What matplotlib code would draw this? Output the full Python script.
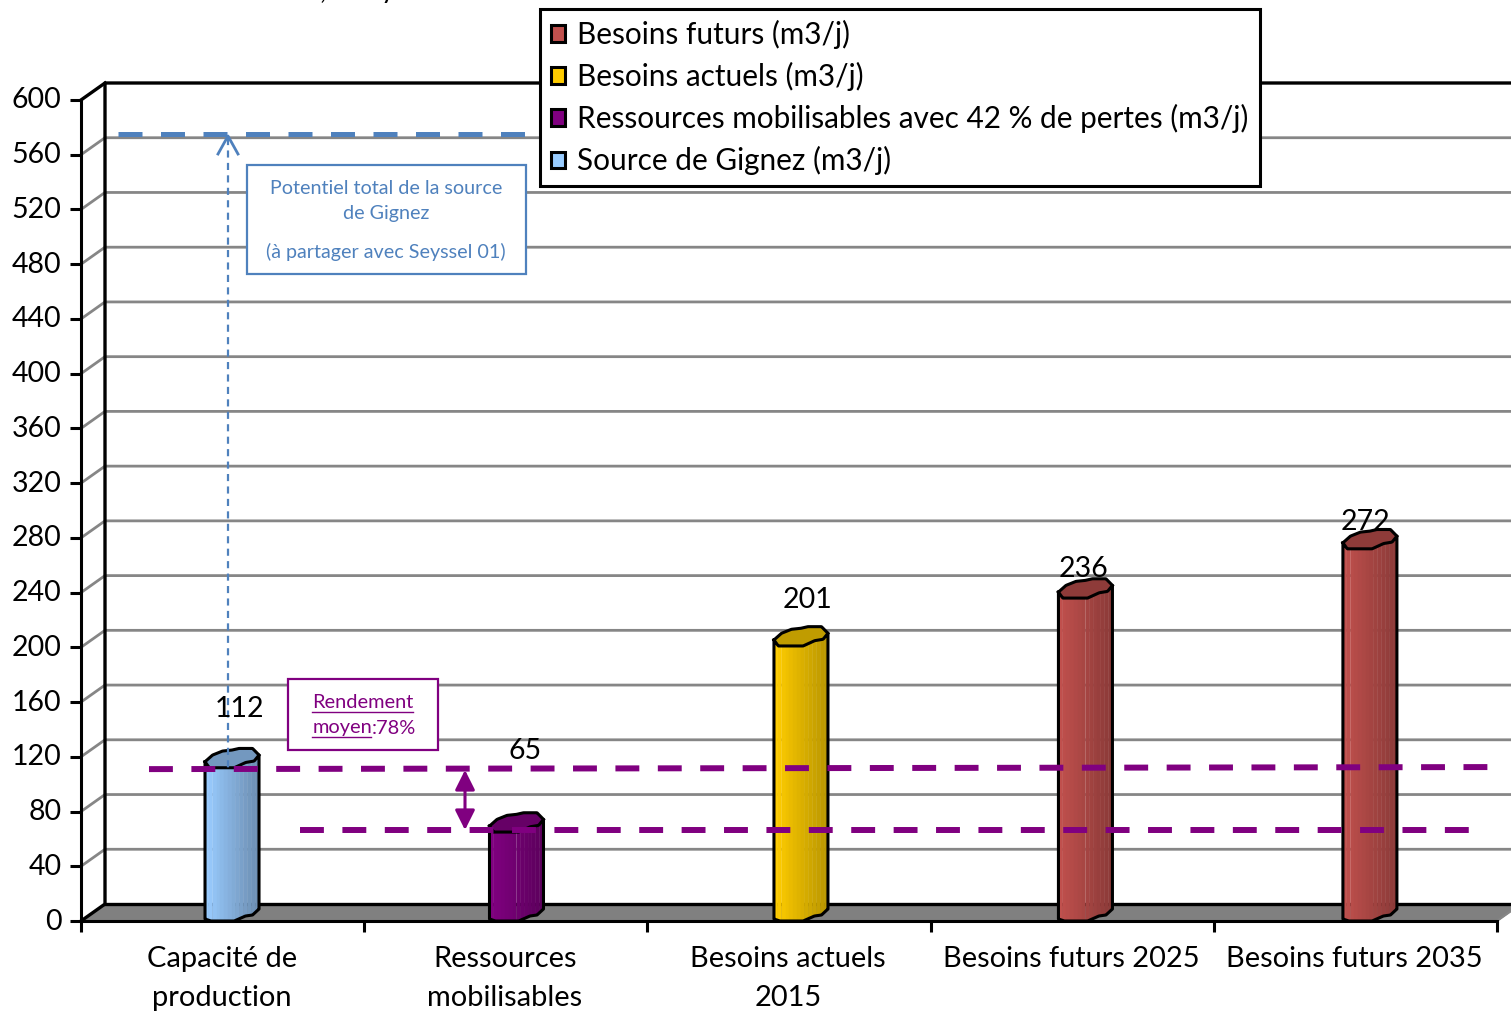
import numpy as np
import matplotlib
matplotlib.use("Agg")
import matplotlib.pyplot as plt
from matplotlib.patches import Patch, Rectangle
from matplotlib.transforms import ScaledTranslation

plt.rcParams['font.family'] = ['Lato', 'DejaVu Sans']

# data
categories = ["Capacité de\nproduction", "Ressources\nmobilisables", "Besoins actuels\n2015",
              "Besoins futurs 2025", "Besoins futurs 2035"]
values = [112, 65, 201, 236, 272]
y_ticks = list(range(0, 601, 40))
legend_labels = ["Besoins futurs (m3/j)", "Besoins actuels (m3/j)",
                 "Ressources mobilisables avec 42 % de pertes (m3/j)", "Source de Gignez (m3/j)"]
source_potential = 575
yield_line_start = [111, 112.5]
resource_line = [66.5, 66.5]

# colours: light side, dark side, cap
bar_colors = [("#99CCFF", "#6E90B5", "#7398BF"),
              ("#800080", "#5E005E", "#660066"),
              ("#FFCC00", "#BC9800", "#C09C00"),
              ("#C0504D", "#8E3B39", "#8E3B39"),
              ("#C0504D", "#8E3B39", "#8E3B39")]
legend_colors = ["#C0504D", "#FFCC00", "#800080", "#99CCFF"]
purple = "#800080"
blue = "#4F81BD"
grid_gray = "#868686"

W, H = 1511, 1011
fig = plt.figure(figsize=(W / 100, H / 100), dpi=100)
ax = fig.add_axes([81 / W, (H - 921) / H, 1416 / W, 821 / H])
ax.set_xlim(0, 5)
ax.set_ylim(0, 600)
ax.patch.set_visible(False)

PX_X = 1416 / 5   # pixels per category
PX_Y = 821 / 600  # pixels per unit
DX = 24 / PX_X
DY = 17 / PX_Y
GRID_DY = 17 / PX_Y


def xpos(px):
    return (px - 81) / PX_X


# floor and walls
ax.fill([0, 5, 5 + DX, DX], [0, 0, DY, DY], color="#808080", clip_on=False, zorder=1)
ax.plot([DX, 5 + DX], [DY, DY], color="k", lw=2.4, clip_on=False, zorder=1.5)
ax.plot([5, 5 + DX], [0, DY], color=grid_gray, lw=1.5, clip_on=False, zorder=1.5)
ax.plot([0, DX, DX, 5 + DX], [0, DY, 600 + DY, 600 + DY], color="k", lw=2.4, clip_on=False, zorder=1.5)
ax.plot([0, DX], [600, 600 + DY], color="k", lw=2.4, clip_on=False, zorder=1.5)
for t in y_ticks[1:-1]:
    ax.plot([0, DX, 5 + DX], [t, t + GRID_DY, t + GRID_DY], color=grid_gray, lw=2,
            clip_on=False, zorder=1.2)

# cylinder outline, u across the bar, lift in pixels
base_u = [0, .11, .54, .75, .88, 1]
base_lift = [2, 0, 0, 5, 6, 12]
top_u = [0, .08, .54, .755, .91, 1]
top_lift = [6, 0, 0, 5.3, 6.7, 12.7]
cap_u = [0, .14, .325, .5, .63, .88, 1]
cap_lift = [6, 12.7, 16.7, 17.7, 19.3, 19.3, 12.7]
BAR_W = 54 / PX_X
edges = np.linspace(0, 1, 15)

for i, (v, c) in enumerate(zip(values, bar_colors)):
    left = 0.4379 + i * 1.0045
    c0 = np.array(matplotlib.colors.to_rgb(c[0]))
    c1 = np.array(matplotlib.colors.to_rgb(c[1]))
    for a, b in zip(edges[:-1], edges[1:]):
        us = np.array([a, b])
        xs = left + us * BAR_W
        y_bot = np.interp(us, base_u, base_lift) / PX_Y
        y_top = v + np.interp(us, top_u, top_lift) / PX_Y
        col = c0 + (c1 - c0) * min((a / 0.9), 1)
        ax.fill([xs[0], xs[1], xs[1], xs[0]], [y_bot[0], y_bot[1], y_top[1], y_top[0]],
                color=col, lw=0.3, zorder=3)
    uu = np.linspace(0, 1, 60)
    x_line = left + uu * BAR_W
    y_b = np.interp(uu, base_u, base_lift) / PX_Y
    y_t = v + np.interp(uu, top_u, top_lift) / PX_Y
    y_c = v + np.interp(uu, cap_u, cap_lift) / PX_Y
    ax.fill(np.r_[x_line, x_line[::-1]], np.r_[y_t, y_c[::-1]], color=c[2], zorder=3.1, lw=0)
    ax.plot(np.r_[x_line[0], x_line, x_line[-1], x_line[::-1], x_line[0]],
            np.r_[y_t[0], y_b, y_t[-1], y_t[::-1], y_t[0]], color="k", lw=2.2, zorder=3.2)
    ax.plot(x_line, y_c, color="k", lw=2.2, zorder=3.2)
    ax.plot([x_line[-1], x_line[-1]], [y_t[-1], y_c[-1]], color="k", lw=2.2, zorder=3.2)

# dashed reference lines
dash = (0, (4, 3.1))
ax.plot([xpos(149), xpos(1493)], yield_line_start, color=purple, lw=4.3, ls=dash,
        dash_capstyle="butt", clip_on=False, zorder=4)
ax.plot([xpos(300), xpos(1473)], resource_line, color=purple, lw=4.3, ls=dash,
        dash_capstyle="butt", clip_on=False, zorder=4)
ax.plot([xpos(118), xpos(526)], [source_potential, source_potential], color=blue, lw=3.6,
        ls=(0, (4.8, 3.7)), dash_capstyle="butt", clip_on=False, zorder=4)

# axes
ax.spines["top"].set_visible(False)
ax.spines["right"].set_visible(False)
for s in ("left", "bottom"):
    ax.spines[s].set_linewidth(2.2)
ax.set_yticks(y_ticks)
ax.set_xticks(range(6))
ax.set_xticklabels([])
ax.set_xticks(np.arange(5) + 0.497, categories, minor=True, fontsize=20.9, linespacing=1.62)
ax.tick_params(axis="x", which="major", length=8, width=2.2, direction="out")
ax.tick_params(axis="x", which="minor", length=0, pad=18)
ax.tick_params(axis="y", length=8, width=2.2, pad=6, labelsize=20.5)
for lab in ax.get_xticklabels(minor=True):
    lab.set_verticalalignment("top")
for lab in ax.get_yticklabels():
    lab.set_transform(lab.get_transform() + ScaledTranslation(0, 2 / 100, fig.dpi_scale_trans))

# pixel overlay for notes and legend
px = fig.add_axes([0, 0, 1, 1], zorder=5)
px.set_xlim(0, W)
px.set_ylim(H, 0)
px.axis("off")

# cut off title at the top edge
px.text(323, -2, ",", fontsize=20, ha="center", va="baseline", color="k")
px.text(388, -2, "y", fontsize=20, ha="center", va="baseline", color="k")

# arrow from the bar up to the potential of the source
px.plot([228, 228], [138, 770], color=blue, lw=1.6, ls=(0, (3.2, 2.4)))
px.plot([218, 228, 238], [154, 136, 154], color=blue, lw=2)
px.add_patch(Rectangle((246.5, 165), 279.5, 109, fc="white", ec=blue, lw=1.6))
px.text(386, 188, "Potentiel total de la source", color=blue, fontsize=14.2, ha="center", va="center")
px.text(386, 214, "de Gignez", color=blue, fontsize=14.2, ha="center", va="center")
px.text(386, 252, "(à partager avec Seyssel 01)", color=blue, fontsize=14.2, ha="center", va="center")

# yield note
px.annotate("", xy=(465, 770), xytext=(465, 830),
            arrowprops=dict(arrowstyle="<|-|>,head_length=0.8,head_width=0.4", color=purple,
                            lw=2.2, mutation_scale=15, shrinkA=0, shrinkB=0))
px.add_patch(Rectangle((287.5, 678.5), 150.5, 71.5, fc="white", ec=purple, lw=1.6))
px.text(363, 702, "Rendement", color=purple, fontsize=14.4, ha="center", va="center")
px.plot([312, 413], [711.5, 711.5], color=purple, lw=1)
px.text(372, 728, "moyen", color=purple, fontsize=14.4, ha="right", va="center")
px.text(372, 728, ":78%", color=purple, fontsize=14.4, ha="left", va="center")
px.plot([312, 371], [737, 737], color=purple, lw=1)

# value labels
label_x = [240, 525, 807, 1084, 1366]
label_y = [709, 751, 600, 569, 522]
for v, lx, ly in zip(values, label_x, label_y):
    px.text(lx, ly, str(v), fontsize=20.5, ha="center", va="center", color="k")

# legend
handles = [Patch(fc=c, ec="k", lw=2.2) for c in legend_colors]
leg = px.legend(handles, legend_labels, loc="upper left", bbox_to_anchor=(540 / W, 1 - 9 / H),
                bbox_transform=fig.transFigure, borderaxespad=0, fontsize=21.4, fancybox=False,
                framealpha=1, edgecolor="k", handlelength=0.48, handleheight=0.48,
                handletextpad=0.42, labelspacing=0.44, borderpad=0.36, labelcolor="k")
leg.get_frame().set_linewidth(2.2)

fig.savefig("out.png", dpi=100)
